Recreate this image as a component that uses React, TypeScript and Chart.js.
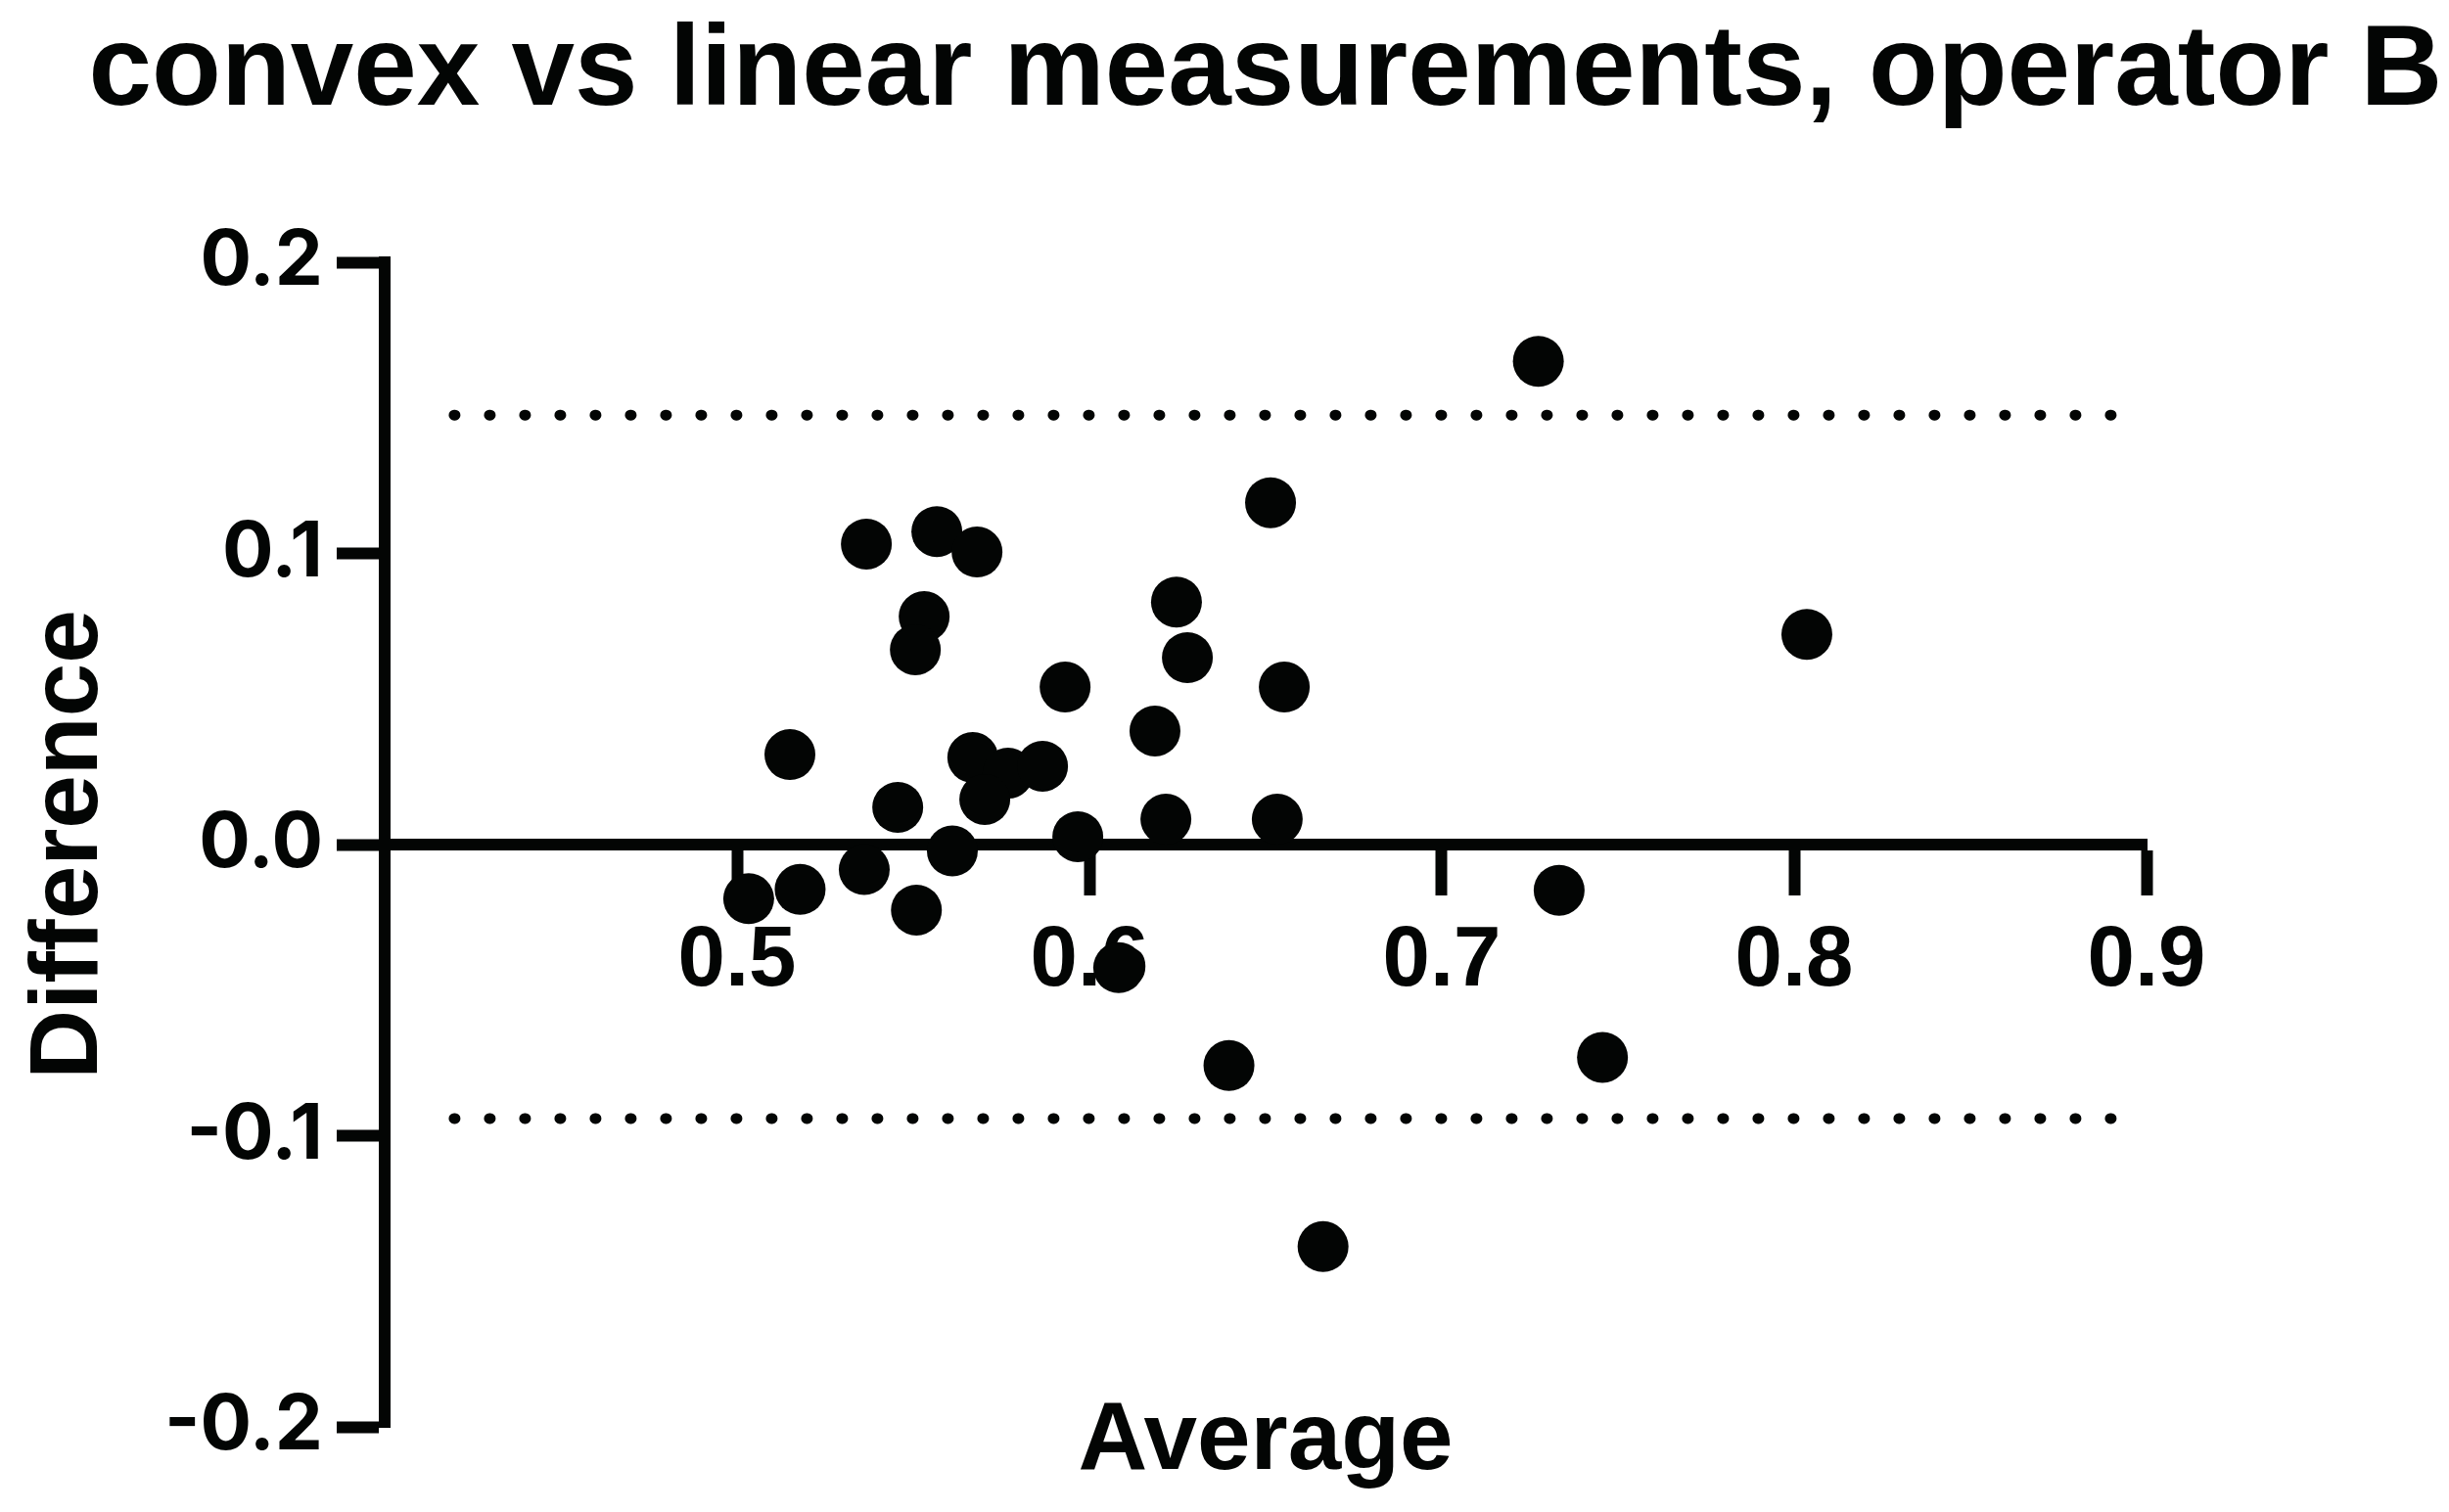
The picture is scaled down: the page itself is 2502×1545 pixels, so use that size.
import React, { useEffect, useRef } from 'react';
import { Chart, registerables } from 'chart.js';

Chart.register(...registerables);

// ---- data ----
const chartTitle = 'convex vs linear measurements, operator B';
const xAxisTitle = 'Average';
const yAxisTitle = 'Difference';

const averages = [
  0.7274, 0.6514, 0.5367, 0.5567, 0.5681, 0.5531, 0.5506, 0.6247, 0.6278, 0.8036,
  0.5931, 0.6553, 0.6186, 0.5150, 0.5669, 0.5769, 0.5867, 0.5703, 0.5456, 0.6217,
  0.6533, 0.5967, 0.5611, 0.5361, 0.5033, 0.5179, 0.5509, 0.7333, 0.6083, 0.7456,
  0.6396, 0.6663,
];
const differences = [
  0.1660, 0.1174, 0.1032, 0.1075, 0.1005, 0.0783, 0.0669, 0.0833, 0.0642, 0.0722,
  0.0541, 0.0541, 0.0390, 0.0309, 0.0299, 0.0245, 0.0269, 0.0155, 0.0128, 0.0087,
  0.0087, 0.0027, -0.0022, -0.0086, -0.0186, -0.0154, -0.0225, -0.0157, -0.0423, -0.0731,
  -0.0759, -0.1381,
];

// limits of agreement (dotted lines)
const upperLimit = 0.1475;
const lowerLimit = -0.0941;
const limitStart = 0.4147;
const limitEnd = 0.8947;

const xTickValues = [0.5, 0.6, 0.7, 0.8, 0.9];
const yTickValues = [-0.2, -0.1, 0.0, 0.1, 0.2];

const W = 2502;
const H = 1545;

export default function App() {
  const ref = useRef<HTMLCanvasElement>(null);

  useEffect(() => {
    document.body.style.margin = '0';
    document.body.style.overflow = 'hidden';
    const canvas = ref.current;
    if (!canvas) return;

    const black = '#030504';
    const bold = (size: number, family = "'Liberation Sans', Arial, sans-serif") => ({
      family,
      size,
      weight: 'bold' as const,
      lineHeight: 1.2,
    });

    const limitLine = (y: number) =>
      ({
        type: 'line',
        data: [
          { x: limitStart, y },
          { x: limitEnd, y },
        ],
        borderColor: black,
        borderWidth: 11,
        borderDash: [1, 35],
        borderDashOffset: -18,
        borderCapStyle: 'round',
        pointRadius: 0,
        fill: false,
        showLine: true,
        xAxisID: 'x',
        yAxisID: 'y',
      } as any);

    const chart = new Chart(canvas, {
      type: 'scatter',
      data: {
        datasets: [
          {
            type: 'scatter',
            data: averages.map((a, i) => ({ x: a, y: differences[i] })),
            backgroundColor: black,
            borderWidth: 0,
            pointRadius: 26,
            pointHoverRadius: 26,
            xAxisID: 'x',
            yAxisID: 'y',
            clip: false as any,
          },
          limitLine(upperLimit),
          limitLine(lowerLimit),
        ],
      },
      options: {
        responsive: false,
        devicePixelRatio: 1,
        animation: false,
        events: [],
        layout: { padding: { left: 84, right: 0, top: 0, bottom: 0 } },
        plugins: {
          legend: { display: false },
          tooltip: { enabled: false },
          title: {
            display: true,
            text: chartTitle,
            color: black,
            font: bold(116),
            padding: { top: 5, bottom: 123.8 },
          },
        },
        scales: {
          x: {
            type: 'linear',
            position: { y: 0 } as any,
            min: 0.4,
            max: 0.9,
            afterBuildTicks: (s: any) => {
              s.ticks = xTickValues.map((v) => ({ value: v }));
            },
            ticks: {
              color: black,
              font: bold(87),
              padding: 22,
              maxRotation: 0,
              autoSkip: false,
              callback: (v: any) => Number(v).toFixed(1),
            },
            grid: {
              display: true,
              drawOnChartArea: false,
              drawTicks: true,
              tickLength: 46,
              tickWidth: 12,
              tickColor: black,
            },
            border: { display: true, width: 12, color: black },
          },
          xb: {
            type: 'linear',
            position: 'bottom',
            ticks: { display: false },
            grid: { display: false },
            border: { display: false },
            title: {
              display: true,
              text: xAxisTitle,
              color: black,
              font: bold(98),
              padding: { top: 0, bottom: 12 },
            },
            afterFit: (s: any) => {
              s.height = 87;
            },
          },
          y: {
            type: 'linear',
            position: 'left',
            min: -0.2,
            max: 0.2,
            afterBuildTicks: (s: any) => {
              s.ticks = yTickValues.map((v) => ({ value: v }));
            },
            ticks: {
              color: black,
              font: bold(78, "Inter, 'Liberation Sans', sans-serif"),
              padding: 14,
              autoSkip: false,
              callback: (v: any) => Number(v).toFixed(1),
            },
            grid: {
              display: true,
              drawOnChartArea: false,
              drawTicks: true,
              tickLength: 49,
              tickWidth: 12,
              tickColor: black,
            },
            border: { display: true, width: 12, color: black },
            title: {
              display: true,
              text: yAxisTitle,
              color: black,
              font: bold(98),
              padding: { top: -71, bottom: 0 },
            },
            afterFit: (s: any) => {
              s.width = 309;
            },
          },
          yr: {
            type: 'linear',
            position: 'right',
            ticks: { display: false },
            grid: { display: false },
            border: { display: false },
            afterFit: (s: any) => {
              s.width = 309;
            },
          },
        },
      } as any,
    });

    return () => chart.destroy();
  }, []);

  return (
    <div style={{ width: W, height: H }}>
      <canvas ref={ref} width={W} height={H} style={{ display: 'block', width: W, height: H }} />
    </div>
  );
}
